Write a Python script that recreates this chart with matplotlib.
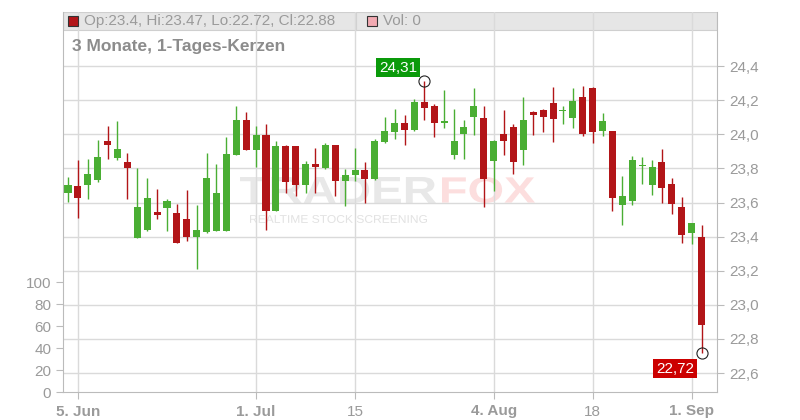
import numpy as np
import pandas as pd
import matplotlib
matplotlib.use("Agg")
import matplotlib.pyplot as plt
from matplotlib.patches import Rectangle, PathPatch
from matplotlib.textpath import TextPath
from matplotlib.font_manager import FontProperties
from matplotlib.transforms import Affine2D

plt.rcParams['font.family'] = ['Liberation Sans', 'DejaVu Sans']

# Tageskerzen 4. Jun - 2. Sep 2025
dates = pd.bdate_range("2025-06-04", "2025-09-02")
opens = [23.655, 23.694, 23.702, 23.731, 23.958, 23.860, 23.835, 23.391, 23.438, 23.542,
         23.567, 23.536, 23.501, 23.397, 23.427, 23.432, 23.432, 23.878, 24.081, 23.907,
         23.993, 23.550, 23.934, 23.934, 23.702, 23.823, 23.802, 23.940, 23.725, 23.761,
         23.788, 23.737, 23.952, 24.016, 24.069, 24.027, 24.192, 24.163, 24.069, 23.880,
         24.004, 24.104, 24.098, 23.841, 24.004, 24.045, 23.906, 24.133, 24.145, 24.186,
         24.139, 24.098, 24.216, 24.269, 24.018, 24.022, 23.585, 23.608, 23.813, 23.702,
         23.835, 23.706, 23.573, 23.421, 23.40]
highs = [23.747, 23.852, 23.858, 23.964, 24.046, 24.075, 23.893, 23.800, 23.741, 23.677,
         23.618, 23.589, 23.671, 23.583, 23.893, 23.823, 23.987, 24.163, 24.128, 24.046,
         24.063, 23.958, 23.940, 23.934, 23.841, 23.917, 23.946, 23.940, 23.794, 23.917,
         23.835, 23.975, 24.104, 24.151, 24.116, 24.204, 24.31, 24.180, 24.257, 24.151,
         24.086, 24.269, 24.163, 23.969, 24.145, 24.063, 24.216, 24.139, 24.151, 24.275,
         24.163, 24.269, 24.286, 24.275, 24.122, 24.022, 23.753, 23.870, 23.864, 23.852,
         23.911, 23.741, 23.630, 23.477, 23.47]
lows = [23.602, 23.509, 23.620, 23.720, 23.854, 23.848, 23.620, 23.391, 23.432, 23.503,
        23.432, 23.362, 23.374, 23.210, 23.423, 23.432, 23.432, 23.878, 23.907, 23.807,
        23.438, 23.550, 23.655, 23.637, 23.655, 23.655, 23.796, 23.637, 23.579, 23.725,
        23.596, 23.731, 23.946, 23.975, 23.940, 24.022, 24.086, 23.986, 24.039, 23.853,
        23.853, 23.998, 23.571, 23.665, 23.876, 23.765, 23.818, 23.998, 24.016, 23.957,
        24.063, 24.039, 23.992, 23.951, 23.989, 23.550, 23.468, 23.585, 23.708, 23.643,
        23.596, 23.532, 23.362, 23.356, 22.72]
closes = [23.700, 23.626, 23.770, 23.864, 23.936, 23.911, 23.802, 23.571, 23.624, 23.526,
          23.606, 23.362, 23.397, 23.436, 23.741, 23.653, 23.882, 24.081, 23.907, 23.993,
          23.550, 23.934, 23.720, 23.702, 23.823, 23.807, 23.940, 23.725, 23.764, 23.788,
          23.737, 23.958, 24.022, 24.069, 24.028, 24.192, 24.157, 24.069, 24.080, 23.963,
          24.045, 24.163, 23.735, 23.963, 23.963, 23.835, 24.086, 24.116, 24.104, 24.092,
          24.145, 24.198, 24.004, 24.016, 24.079, 23.626, 23.641, 23.852, 23.821, 23.811,
          23.684, 23.591, 23.409, 23.477, 22.88]
volumes = [0] * len(dates)

tick_dates = ["2025-06-05", "2025-07-01", "2025-07-15", "2025-08-04", "2025-08-18", "2025-09-01"]
tick_labels = ["5. Jun", "1. Jul", "15", "4. Aug", "18", "1. Sep"]
tick_bold = [True, True, False, True, False, True]

GREEN = '#4aae33'
RED = '#b21518'
GRID = '#dadada'
TXT = '#9a9a9a'

W, H = 800, 420
fig = plt.figure(figsize=(8, 4.2), dpi=100)
ax = fig.add_axes([63 / W, 28 / H, 654 / W, 380 / H])

# Volumen-Achse links (zuerst anlegen, twinx setzt die Ticks um)
axv = ax.twinx()
axv.bar(np.arange(len(dates)), volumes, width=0.71, color='#f2aab2')
axv.set_ylim(0, 345.5)
axv.yaxis.tick_left()
axv.set_yticks([0, 20, 40, 60, 80, 100])
axv.tick_params(axis='y', colors='#bbbbbb', labelcolor=TXT, labelsize=11, length=5, width=0.8)
for s in ['top', 'right', 'bottom']:
    axv.spines[s].set_visible(False)
axv.spines['left'].set_color('#bbbbbb')

x = np.arange(len(dates))
o = np.array(opens); c = np.array(closes)
hi = np.array(highs); lo = np.array(lows)
up = c >= o
cols = np.where(up, GREEN, RED)

ax.vlines(x, lo, hi, colors=cols, linewidth=1.0, zorder=3)
body_h = np.maximum(np.abs(c - o), 0.006)
ax.bar(x, body_h, bottom=np.minimum(o, c), width=0.71, color=cols, linewidth=0, zorder=4)

ax.set_xlim(-0.505, 65.56)
ax.set_ylim(22.489, 24.717)
ax.yaxis.tick_right()
yt = np.arange(22.6, 24.41, 0.2)
ax.set_yticks(yt)
ax.set_yticklabels([f"{v:.1f}".replace('.', ',') for v in yt])

tpos = [list(dates).index(pd.Timestamp(d)) for d in tick_dates]
ax.set_xticks(tpos)
ax.set_xticklabels(tick_labels)
for lab, b in zip(ax.get_xticklabels(), tick_bold):
    lab.set_fontweight('bold' if b else 'normal')

ax.set_axisbelow(True)
ax.grid(True, color=GRID, linewidth=1.0)
ax.tick_params(axis='both', colors='#bbbbbb', labelcolor=TXT, labelsize=11, length=5, width=0.8)
ax.tick_params(axis='x', pad=4)
for s in ['top', 'left']:
    ax.spines[s].set_visible(False)
for s in ['right', 'bottom']:
    ax.spines[s].set_color('#bbbbbb')

# Legendenband oben
ax.add_patch(Rectangle((0, 1 - 18 / 380), 1, 18 / 380, transform=ax.transAxes,
                       facecolor='#e6e6e6', edgecolor='#cfcfcf', linewidth=0.8, zorder=0.3))
ax.plot([(356 - 63) / 654] * 2, [1 - 18 / 380, 1], transform=ax.transAxes, color='#cfcfcf', lw=0.8, zorder=0.4)

def fx(px):
    return px / W

def fy(py):
    return 1 - py / H

fig.add_artist(Rectangle((fx(68), fy(26)), 10 / W, 10 / H, transform=fig.transFigure,
                         facecolor=RED, edgecolor='#333333', linewidth=0.8))
fig.text(fx(84), fy(21), "Op:23.4, Hi:23.47, Lo:22.72, Cl:22.88", color=TXT, fontsize=11, va='center')
fig.add_artist(Rectangle((fx(367), fy(26)), 10 / W, 10 / H, transform=fig.transFigure,
                         facecolor='#f2aab2', edgecolor='#333333', linewidth=0.8))
fig.text(fx(383), fy(21), "Vol: 0", color=TXT, fontsize=11, va='center')
fig.text(fx(72), fy(47), "3 Monate, 1-Tages-Kerzen", color='#8c8c8c', fontsize=12.5,
         fontweight='bold', va='center')

# Wasserzeichen hinter den Kerzen (breit gezogene Schrift)
def watermark(text, x0, x1, ytop, ybot, color, weight='bold'):
    tp = TextPath((0, 0), text, size=100, prop=FontProperties(family='Liberation Sans', weight=weight))
    bb = tp.get_extents()
    tr = (Affine2D().translate(-bb.x0, -bb.y0)
          .scale((x1 - x0) / bb.width, (ybot - ytop) / bb.height)
          .translate(x0, H - ybot))
    ax.add_patch(PathPatch(tp, transform=tr, facecolor=color, edgecolor='none', zorder=0.35))

watermark("TRADER", 240, 436, 177, 203, '#e8e8e8')
watermark("FOX", 442, 535, 177, 203, '#fcdede')
watermark("REALTIME STOCK SCREENING", 250, 427, 215, 223, '#e2e2e2', weight='normal')

# Hoch / Tief Markierungen
i_hi = int(np.argmax(hi)); i_lo = int(np.argmin(lo))
ax.plot(i_hi, hi[i_hi], 'o', mfc='none', mec='#222222', ms=8, mew=0.8, zorder=6)
ax.plot(i_lo, lo[i_lo], 'o', mfc='none', mec='#222222', ms=8, mew=0.8, zorder=6)
ax.annotate(f"{hi[i_hi]:.2f}".replace('.', ','), xy=(i_hi, hi[i_hi]), xytext=(-19, 10),
            textcoords='offset points', ha='center', va='center', color='white', fontsize=11,
            bbox=dict(boxstyle='square,pad=0.18', fc='#0a9a0a', ec='none'), zorder=7)
ax.annotate(f"{lo[i_lo]:.2f}".replace('.', ','), xy=(i_lo, lo[i_lo]), xytext=(-19, -11.5),
            textcoords='offset points', ha='center', va='center', color='white', fontsize=11,
            bbox=dict(boxstyle='square,pad=0.18', fc='#cc0000', ec='none'), zorder=7)

fig.savefig('out.png', dpi=100)
